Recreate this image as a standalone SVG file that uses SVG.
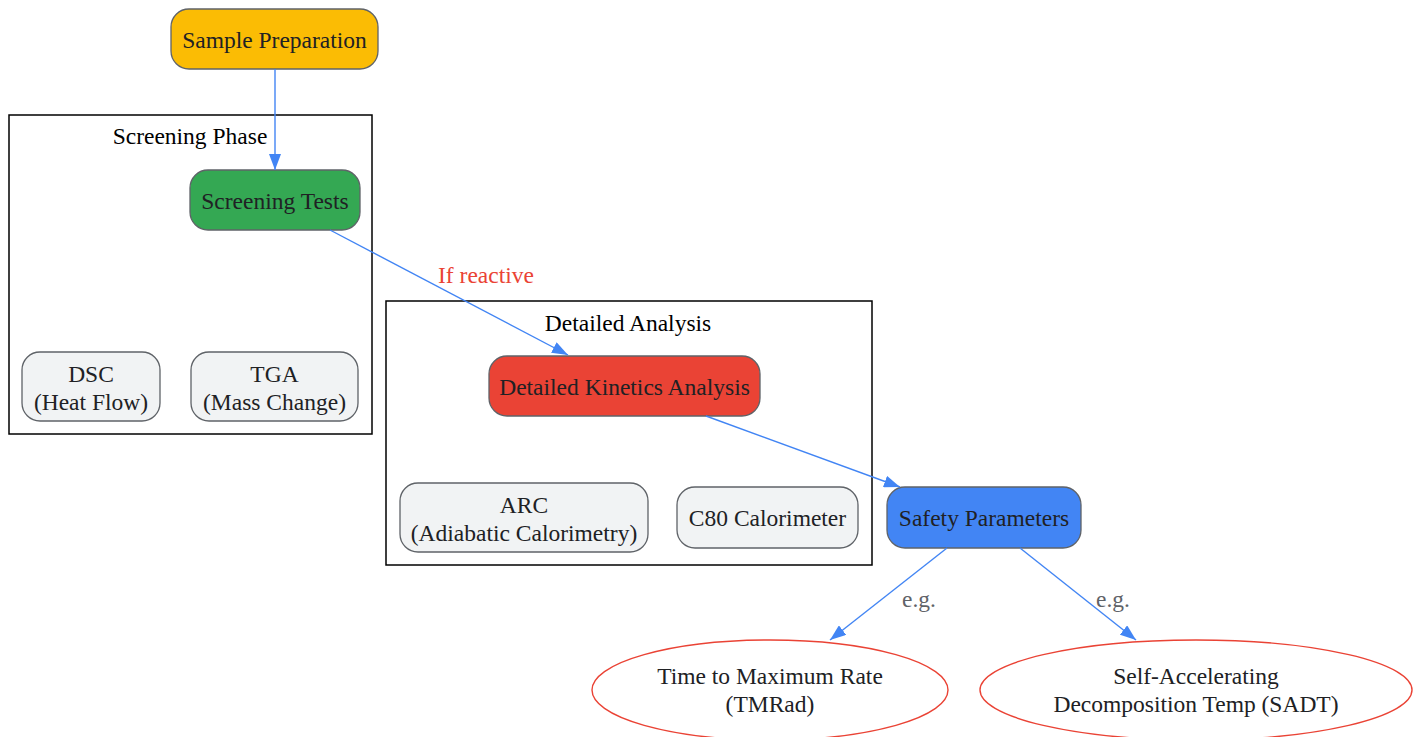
<svg xmlns="http://www.w3.org/2000/svg" width="1421" height="737" viewBox="0 0 1421 737">
<defs>
<style>
text{font-family:"Liberation Serif","Times New Roman",serif;font-size:23.5px;fill:#202124;text-anchor:middle}
.n{stroke:#5f6368;stroke-width:1.3}
.c{fill:none;stroke:#000;stroke-width:1.5}
.e{fill:none;stroke:#4285F4;stroke-width:1.4}
.g{fill:#F1F3F4}
.el{fill:none;stroke:#EA4335;stroke-width:1.4}
.lbl{fill:#5f6368}
.lr{fill:#EA4335}
.cl{fill:#000}
</style>
<marker id="ab" markerWidth="16" markerHeight="12" refX="16" refY="6" orient="auto" markerUnits="userSpaceOnUse" viewBox="0 0 16 12"><path d="M0,0L16,6L0,12z" fill="#4285F4"/></marker>
</defs>
<rect width="1421" height="737" fill="#fff"/>
<g id="cluster-screening">
<rect class="c" x="9" y="115" width="363" height="319"/>
<text class="cl" x="190" y="144">Screening Phase</text>
</g>
<g id="cluster-detailed">
<rect class="c" x="386" y="301" width="486" height="264"/>
<text class="cl" x="628" y="331">Detailed Analysis</text>
</g>
<g id="sample">
<rect class="n" x="171" y="9" width="207" height="60" rx="18" fill="#FBBC04"/>
<text x="274.5" y="48">Sample Preparation</text>
</g>
<g id="screening">
<rect class="n" x="190" y="170" width="170" height="60" rx="18" fill="#34A853"/>
<text x="275" y="209">Screening Tests</text>
</g>
<g id="dsc">
<rect class="n g" x="22" y="352" width="138" height="69" rx="18"/>
<text x="91" y="382">DSC</text>
<text x="91" y="410">(Heat Flow)</text>
</g>
<g id="tga">
<rect class="n g" x="191" y="352" width="167" height="69" rx="18"/>
<text x="274.5" y="382">TGA</text>
<text x="274.5" y="410">(Mass Change)</text>
</g>
<g id="dka">
<rect class="n" x="489" y="356" width="271" height="60" rx="18" fill="#EA4335"/>
<text x="624.5" y="395">Detailed Kinetics Analysis</text>
</g>
<g id="arc">
<rect class="n g" x="400" y="483" width="248" height="69" rx="18"/>
<text x="524" y="513">ARC</text>
<text x="524" y="541">(Adiabatic Calorimetry)</text>
</g>
<g id="c80">
<rect class="n g" x="677" y="487" width="181" height="61" rx="18"/>
<text x="767.5" y="526">C80 Calorimeter</text>
</g>
<g id="safety">
<rect class="n" x="887" y="487" width="194" height="61" rx="18" fill="#4285F4"/>
<text x="984" y="526">Safety Parameters</text>
</g>
<g id="tmrad">
<ellipse class="el" cx="770" cy="690" rx="178" ry="50"/>
<text x="770" y="684">Time to Maximum Rate</text>
<text x="770" y="712">(TMRad)</text>
</g>
<g id="sadt">
<ellipse class="el" cx="1196" cy="690" rx="216" ry="50"/>
<text x="1196" y="684">Self-Accelerating</text>
<text x="1196" y="712">Decomposition Temp (SADT)</text>
</g>
<g id="connectors">
<path class="e" d="M275,69L275,170" marker-end="url(#ab)"/>
<path class="e" d="M330,230L568,355" marker-end="url(#ab)"/>
<text class="lr" x="486" y="283">If reactive</text>
<path class="e" d="M706,416L900,487" marker-end="url(#ab)"/>
<path class="e" d="M947,548L830,640" marker-end="url(#ab)"/>
<text class="lbl" x="919" y="607">e.g.</text>
<path class="e" d="M1020,548L1136,640" marker-end="url(#ab)"/>
<text class="lbl" x="1113" y="607">e.g.</text>
</g>
</svg>
